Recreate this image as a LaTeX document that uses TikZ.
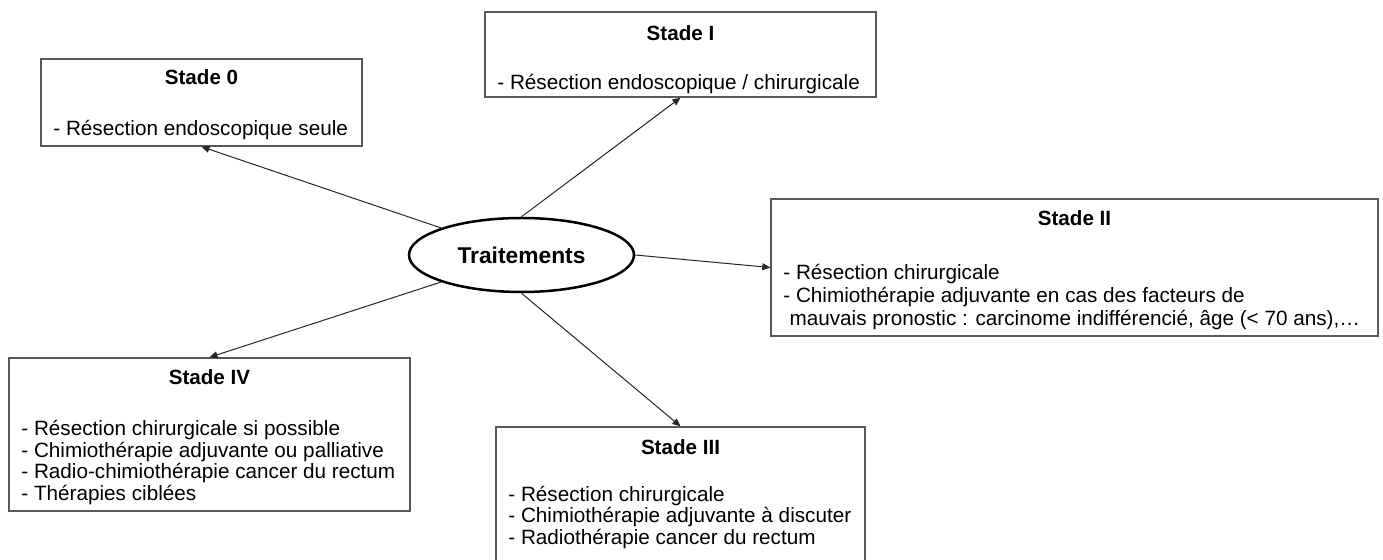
\documentclass[tikz,border=0pt]{standalone}
\usepackage{fontspec}
\setmainfont{Liberation Sans}
\usetikzlibrary{arrows.meta,shapes.geometric}
\definecolor{bord}{HTML}{595959}
\definecolor{trait}{HTML}{262626}
\tikzset{
  stadebox/.style={draw=bord,line width=0.7pt,rectangle,inner sep=0pt},
  titre/.style={anchor=base,inner sep=0pt,font=\fontsize{10.3}{12}\selectfont\bfseries},
  corps/.style={anchor=base west,align=left,inner sep=0pt,font=\fontsize{10.35}{10.85}\selectfont},
  fleche/.style={draw=trait,line width=0.5pt,-{Triangle[length=4pt,width=3.5pt]}}
}
\begin{document}
\begin{tikzpicture}[x=0.5pt,y=-0.5pt]
\useasboundingbox (0,0) rectangle (1383,560);
\clip (0,0) rectangle (1383,560);
% centre
\node[ellipse,draw,line width=1.25pt,minimum width=112.5pt,minimum height=37pt,inner sep=0pt,
  font=\fontsize{11.4}{13}\selectfont\bfseries] (trt) at (521.5,255) {Traitements};
% stade 0
\node[stadebox,minimum width=160.5pt,minimum height=43.5pt] (s0) at (201.5,102.5) {};
\node[titre] (s0t) at (201.5,84.5) {Stade 0};
\node[corps] (s0c) at (53,135.5) {- Résection endoscopique seule};
% stade I
\node[stadebox,minimum width=195.5pt,minimum height=42.5pt] (s1) at (680.5,54.5) {};
\node[titre] (s1t) at (680.5,40.5) {Stade I};
\node[corps] (s1c) at (497,89.5) {- Résection endoscopique / chirurgicale};
% stade II
\node[stadebox,minimum width=303.5pt,minimum height=68.5pt] (s2) at (1074.5,267.5) {};
\node[titre] (s2t) at (1074.5,225.5) {Stade II};
\node[corps,font=\fontsize{10.35}{11.5}\selectfont] (s2c) at (783,325.5) {- Résection chirurgicale\\- Chimiothérapie adjuvante en cas des facteurs de\\\hspace*{0.3em}mauvais pronostic : carcinome indifférencié, âge (< 70 ans),…};
% stade III
\node[stadebox,minimum width=184.5pt,minimum height=76.5pt] (s3) at (680.5,503.5) {};
\node[titre] (s3t) at (680.5,454.5) {Stade III};
\node[corps] (s3c) at (508,544.5) {- Résection chirurgicale\\- Chimiothérapie adjuvante à discuter\\- Radiothérapie cancer du rectum};
% stade IV
\node[stadebox,minimum width=200.5pt,minimum height=76.5pt] (s4) at (209.5,434.5) {};
\node[titre] (s4t) at (209.5,384.5) {Stade IV};
\node[corps] (s4c) at (21,500.5) {- Résection chirurgicale si possible\\- Chimiothérapie adjuvante ou palliative\\- Radio-chimiothérapie cancer du rectum\\- Thérapies ciblées};
% fleches
\draw[fleche] (trt.north west) -- (s0.south);
\draw[fleche] (trt.north) -- (s1.south);
\draw[fleche] (trt.east) -- (s2.west);
\draw[fleche] (trt.south) -- (s3.north);
\draw[fleche] (trt.south west) -- (s4.north);
\end{tikzpicture}
\end{document}
